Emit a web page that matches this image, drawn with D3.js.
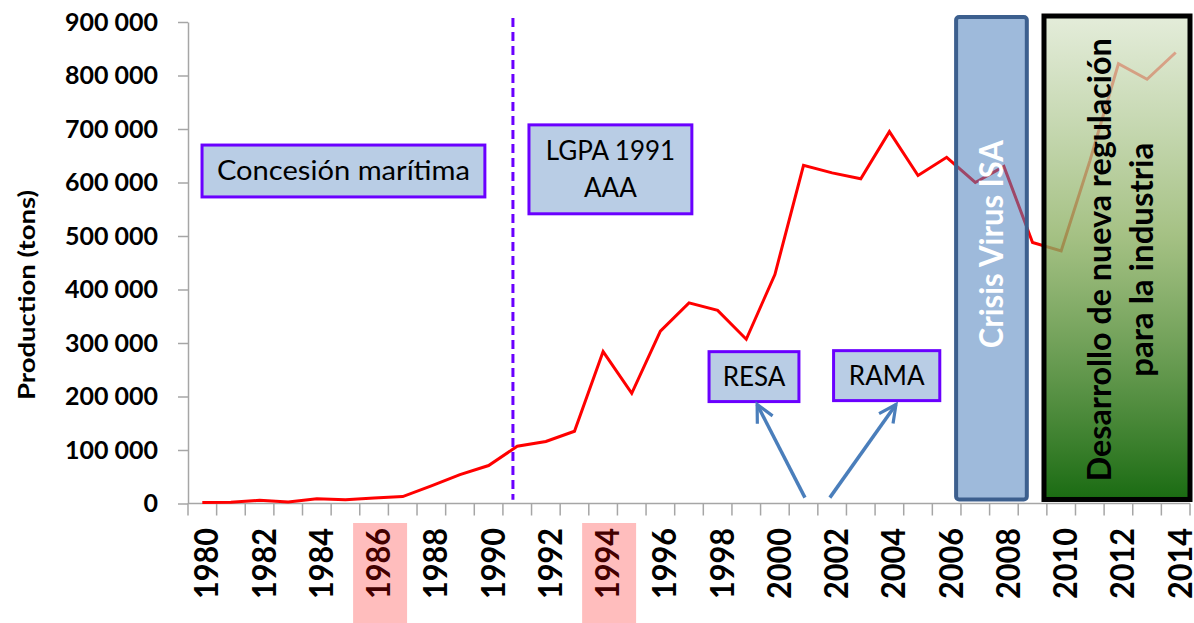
<!DOCTYPE html>
<html>
<head>
<meta charset="utf-8">
<script src="https://cdn.jsdelivr.net/npm/d3@7"></script>
<style>
  body { margin: 0; background: #fff; }
  svg { font-family: Lato, "Open Sans", sans-serif; }
</style>
</head>
<body>
<svg width="1194" height="623"></svg>
<script>
var svg = d3.select("svg");

// data
var years = d3.range(1980, 2015);
var production = [2000, 2500, 6000, 3000, 9000, 7000, 10500, 13000, 33000, 54000,
    71000, 107000, 116000, 135000, 284000, 206000, 322000, 375000, 361000, 307000,
    428000, 632000, 618000, 607000, 695000, 613000, 647000, 600000, 630000, 488000,
    472000, 640000, 822000, 793000, 843000];
var yTicks = [0, 100000, 200000, 300000, 400000, 500000, 600000, 700000, 800000, 900000];
var labelYears = years.filter(function (d) { return d % 2 === 0; });
var highlightYears = [1986, 1994];

// annotation boxes, in year / tons units
var textBoxes = [
    { x0: 1979.99, x1: 1989.87, y0: 573000, y1: 670000, lines: ["Concesión marítima"], len: 253 },
    { x0: 1991.41, x1: 1997.1, y0: 541500, y1: 707700, lines: ["LGPA 1991", "AAA"] },
    { x0: 1997.7, x1: 2000.84, y0: 190500, y1: 283800, lines: ["RESA"] },
    { x0: 2002.05, x1: 2005.76, y0: 192300, y1: 285700, lines: ["RAMA"] }
];
var arrows = [
    { x0: 2001.05, y0: 11000, x1: 1999.38, y1: 185000 },
    { x0: 2001.92, y0: 11000, x1: 2004.23, y1: 185000 }
];
var lawYear = 1990.85;
var crisis = { x0: 2006.33, x1: 2008.8, y0: 7500, y1: 909300, text: "Crisis Virus ISA" };
var regulation = { x0: 2009.4, x1: 2014.5, y0: 7500, y1: 911200,
    lines: ["Desarrollo de nueva regulación", "para la industria"] };

var plotLeft = 188, plotRight = 1190, plotTop = 22, plotBottom = 503.5;

var xBand = d3.scaleBand().domain(years).range([plotLeft, plotRight]);
var bw = xBand.bandwidth();
var x = d3.scaleLinear().domain([1980, 2014])
    .range([plotLeft + bw / 2, plotRight - bw / 2]);
var y = d3.scaleLinear().domain([0, 900000]).range([plotBottom, plotTop]);

var fmt = d3.formatLocale({ decimal: ".", thousands: " ", grouping: [3], currency: ["", ""] }).format(",");

// gradient for the regulation box
var defs = svg.append("defs");
var grad = defs.append("linearGradient").attr("id", "green")
    .attr("x1", 0).attr("y1", 0).attr("x2", 0).attr("y2", 1);
grad.append("stop").attr("offset", "0%").attr("stop-color", "#d9e5cb").attr("stop-opacity", 0.72);
grad.append("stop").attr("offset", "45%").attr("stop-color", "#8fb266").attr("stop-opacity", 0.8);
grad.append("stop").attr("offset", "100%").attr("stop-color", "#1a6b12").attr("stop-opacity", 1);

defs.append("marker").attr("id", "head")
    .attr("viewBox", "0 0 10 10").attr("refX", 8).attr("refY", 5)
    .attr("markerWidth", 7).attr("markerHeight", 7)
    .attr("markerUnits", "strokeWidth").attr("orient", "auto")
    .append("path").attr("d", "M1,1.5 L8,5 L1,8.5")
    .attr("fill", "none").attr("stroke", "#4a7ebb").attr("stroke-width", 1.3);

// y axis
var yAxis = svg.append("g")
    .attr("transform", "translate(" + plotLeft + ",0)")
    .call(d3.axisLeft(y).tickValues(yTicks).tickSize(10).tickSizeOuter(0)
        .tickPadding(20).tickFormat(fmt));
yAxis.select(".domain").attr("stroke", "#a6a6a6").attr("stroke-width", 1.5);
yAxis.selectAll(".tick line").attr("stroke", "#a6a6a6").attr("stroke-width", 1.5);
yAxis.selectAll(".tick text")
    .attr("font-size", 25).attr("font-weight", "bold").attr("fill", "#000")
    .attr("font-family", "Lato, sans-serif");

svg.append("text")
    .attr("transform", "translate(35,295) rotate(-90)")
    .attr("text-anchor", "middle")
    .attr("font-size", 22).attr("font-weight", "bold")
    .attr("textLength", 210).attr("lengthAdjust", "spacingAndGlyphs")
    .text("Production (tons)");

// x axis
var xAxis = svg.append("g");
xAxis.append("line")
    .attr("x1", plotLeft).attr("x2", plotRight).attr("y1", plotBottom).attr("y2", plotBottom)
    .attr("stroke", "#a6a6a6").attr("stroke-width", 1.5);
xAxis.selectAll("line.tick")
    .data(years.concat([2015]))
    .enter().append("line")
    .attr("class", "tick")
    .attr("x1", function (d) { return d === 2015 ? plotRight : xBand(d); })
    .attr("x2", function (d) { return d === 2015 ? plotRight : xBand(d); })
    .attr("y1", plotBottom).attr("y2", plotBottom + 12)
    .attr("stroke", "#a6a6a6").attr("stroke-width", 1.5);
xAxis.selectAll("text")
    .data(labelYears)
    .enter().append("text")
    .attr("transform", function (d) { return "translate(" + (x(d) + 2) + ",528) rotate(-90)"; })
    .attr("text-anchor", "end")
    .attr("dy", 14)
    .attr("font-size", 33).attr("font-weight", "bold")
    .attr("textLength", 71).attr("lengthAdjust", "spacingAndGlyphs")
    .text(function (d) { return d; });
xAxis.selectAll("rect.hl")
    .data(highlightYears)
    .enter().append("rect")
    .attr("class", "hl")
    .attr("x", function (d) { return x(d) - 21; })
    .attr("width", 54)
    .attr("y", 523).attr("height", 100)
    .attr("fill", "#ff0000").attr("fill-opacity", 0.26);

// production line
var line = d3.line()
    .x(function (d, i) { return x(years[i]); })
    .y(function (d) { return y(d); });
svg.append("path")
    .datum(production)
    .attr("d", line)
    .attr("fill", "none")
    .attr("stroke", "#ff0000")
    .attr("stroke-width", 3)
    .attr("stroke-linejoin", "miter");

// law line
svg.append("line")
    .attr("x1", x(lawYear)).attr("x2", x(lawYear))
    .attr("y1", 18).attr("y2", y(7000))
    .attr("stroke", "#6a00ff").attr("stroke-width", 3)
    .attr("stroke-dasharray", "9,5");

// text boxes
textBoxes.forEach(function (b) {
    var g = svg.append("g");
    g.append("rect")
        .attr("x", x(b.x0)).attr("width", x(b.x1) - x(b.x0))
        .attr("y", y(b.y1)).attr("height", y(b.y0) - y(b.y1))
        .attr("fill", "#b9cde5").attr("stroke", "#6a00ff").attr("stroke-width", 3);
    var cx = (x(b.x0) + x(b.x1)) / 2,
        cy = (y(b.y0) + y(b.y1)) / 2;
    var n = b.lines.length;
    b.lines.forEach(function (t, i) {
        var txt = g.append("text")
            .attr("x", cx)
            .attr("y", cy + (i - (n - 1) / 2) * 37)
            .attr("dy", "0.36em")
            .attr("text-anchor", "middle")
            .attr("font-size", 26)
            .text(t);
        if (b.len) txt.attr("textLength", b.len).attr("lengthAdjust", "spacingAndGlyphs");
    });
});

// arrows
svg.selectAll("line.arrow")
    .data(arrows)
    .enter().append("line")
    .attr("class", "arrow")
    .attr("x1", function (d) { return x(d.x0); })
    .attr("y1", function (d) { return y(d.y0); })
    .attr("x2", function (d) { return x(d.x1); })
    .attr("y2", function (d) { return y(d.y1); })
    .attr("stroke", "#4a7ebb").attr("stroke-width", 3.5)
    .attr("marker-end", "url(#head)");

// crisis box
svg.append("rect")
    .attr("x", x(crisis.x0)).attr("width", x(crisis.x1) - x(crisis.x0))
    .attr("y", y(crisis.y1)).attr("height", y(crisis.y0) - y(crisis.y1))
    .attr("rx", 3)
    .attr("fill", "#4f81bd").attr("fill-opacity", 0.55)
    .attr("stroke", "#3c5f8e").attr("stroke-width", 4);
svg.append("text")
    .attr("transform", "translate(" + ((x(crisis.x0) + x(crisis.x1)) / 2) + "," +
        ((y(crisis.y0) + y(crisis.y1)) / 2 - 14) + ") rotate(-90)")
    .attr("text-anchor", "middle")
    .attr("dy", "0.36em")
    .attr("font-size", 33).attr("font-weight", "bold").attr("fill", "#fff")
    .attr("textLength", 208).attr("lengthAdjust", "spacingAndGlyphs")
    .text(crisis.text);

// regulation box
svg.append("rect")
    .attr("x", x(regulation.x0)).attr("width", x(regulation.x1) - x(regulation.x0))
    .attr("y", y(regulation.y1)).attr("height", y(regulation.y0) - y(regulation.y1))
    .attr("fill", "url(#green)")
    .attr("stroke", "#000").attr("stroke-width", 5);
var rcx = (x(regulation.x0) + x(regulation.x1)) / 2 + 3,
    rcy = (y(regulation.y0) + y(regulation.y1)) / 2 + 2;
var regLen = [443, 234];
regulation.lines.forEach(function (t, i) {
    svg.append("text")
        .attr("transform", "translate(" + (rcx + (i - 0.5) * 42) + "," + rcy + ") rotate(-90)")
        .attr("text-anchor", "middle")
        .attr("dy", "0.36em")
        .attr("font-size", 32).attr("font-weight", "bold").attr("fill", "#000")
        .attr("textLength", regLen[i]).attr("lengthAdjust", "spacingAndGlyphs")
        .text(t);
});
</script>
</body>
</html>
